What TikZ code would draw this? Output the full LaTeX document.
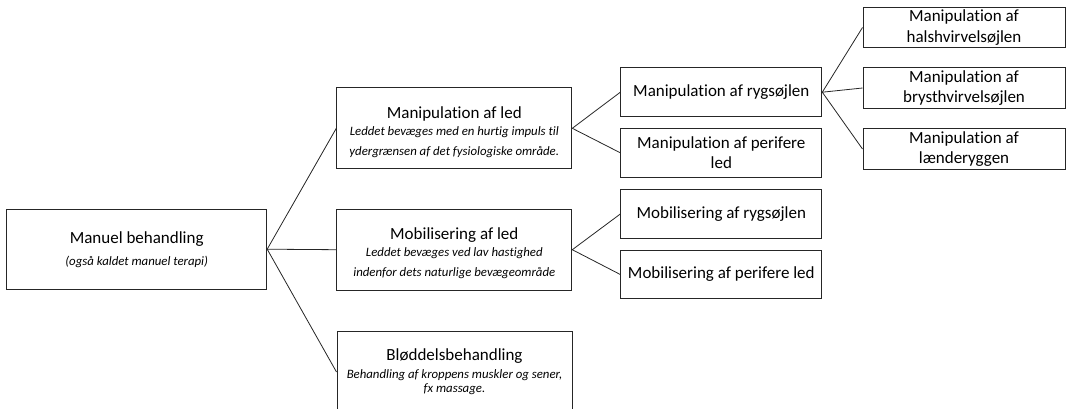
\documentclass[tikz,border=0pt]{standalone}
\usepackage{fontspec}
\setmainfont{Carlito}[Ligatures=NoCommon]
\newcommand{\mytitle}{\fontsize{17}{20.5}\selectfont\upshape}
\newcommand{\mysub}{\fontsize{12.8}{20}\selectfont\itshape}
\begin{document}
\begin{tikzpicture}[x=1pt,y=-1pt,
  box/.style={draw=black!85, line width=1pt, align=center, inner sep=0pt, font=\mytitle},
  sbox/.style={box, font=\mysub},
  lvltwo/.style={box, minimum width=235pt, minimum height=81pt},
  lvlthree/.style={box, minimum width=201pt, minimum height=48.5pt},
  lvlfour/.style={box, minimum width=202pt, minimum height=40.5pt},
  conn/.style={draw=black!85, line width=0.8pt}]
\useasboundingbox (0,0) rectangle (1066,408);
\node[sbox, minimum width=260pt, minimum height=80pt] (mb) at (136.7,249.2)
  {{\mytitle Manuel behandling}\\[2pt](også kaldet manuel terapi)};
\node[lvltwo, font=\mysub] (ml) at (454.3,128.3)
  {\rule{0pt}{19pt}{\mytitle Manipulation af led}\\[-3pt]Leddet bevæges med en hurtig impuls til\\ydergrænsen af det fysiologiske område.};
\node[lvltwo, font=\mysub] (mob) at (454.3,249.7)
  {\rule{0pt}{19pt}{\mytitle Mobilisering af led}\\[-3pt]Leddet bevæges ved lav hastighed\\indenfor dets naturlige bevægeområde};
\node[lvltwo, font=\fontsize{12.8}{14}\selectfont\itshape] (bl) at (454.5,372)
  {{\mytitle Bløddelsbehandling}\\[4pt]Behandling af kroppens muskler og sener,\\fx massage.};
\node[lvlthree] (mr) at (721.3,92.2) {Manipulation af rygsøjlen};
\node[lvlthree] (mp) at (721.3,152.8) {Manipulation af perifere\\led};
\node[lvlthree] (mor) at (721.3,214) {Mobilisering af rygsøjlen};
\node[lvlthree] (mop) at (721.3,274.5) {Mobilisering af perifere led};
\node[lvlfour] (hals) at (964,27.5) {Manipulation af\\halshvirvelsøjlen};
\node[lvlfour] (bryst) at (964,88) {Manipulation af\\brysthvirvelsøjlen};
\node[lvlfour] (laend) at (964,149) {Manipulation af\\lænderyggen};
\draw[conn] (mb.east) -- (ml.west);
\draw[conn] (mb.east) -- (mob.west);
\draw[conn] (mb.east) -- (bl.west);
\draw[conn] (ml.east) -- (mr.west);
\draw[conn] (ml.east) -- (mp.west);
\draw[conn] (mob.east) -- (mor.west);
\draw[conn] (mob.east) -- (mop.west);
\draw[conn] (mr.east) -- (hals.west);
\draw[conn] (mr.east) -- (bryst.west);
\draw[conn] (mr.east) -- (laend.west);
\end{tikzpicture}
\end{document}
